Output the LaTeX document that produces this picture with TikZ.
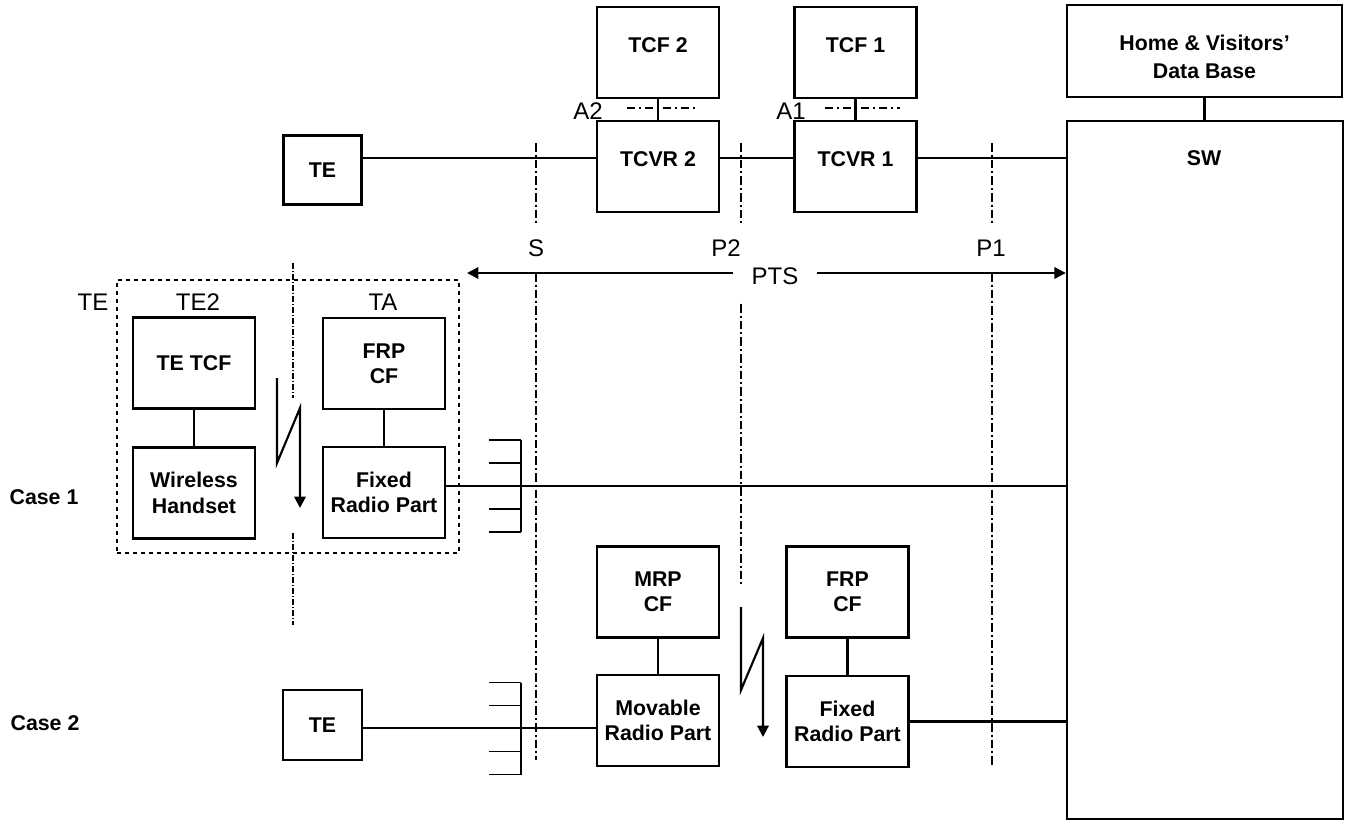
\documentclass[tikz,border=0pt]{standalone}
\usepackage{fontspec}
\setmainfont{Liberation Sans}
\usetikzlibrary{arrows.meta, positioning, calc}

\newcommand{\bfont}{\fontsize{16}{19}\selectfont\bfseries}
\newcommand{\rfont}{\fontsize{18}{21}\selectfont}

\tikzstyle{unit} = [draw, line width=1.8pt, align=center, inner sep=0pt, font=\bfont, minimum width=91.5pt, minimum height=68.25pt]
\tikzstyle{small unit} = [unit, minimum width=58.5pt, minimum height=52pt]
\tikzstyle{raised} = [text depth=10.5pt]
\tikzstyle{link} = [line width=1.6pt]
\tikzstyle{comb} = [line width=1.3pt]
\tikzstyle{refpoint} = [line width=1.2pt, dash pattern=on 6.5pt off 2.25pt on 1.5pt off 2.25pt]
\tikzstyle{interface} = [line width=1.1pt, dash pattern=on 6pt off 3pt on 1.5pt off 3pt]
\tikzstyle{boundary} = [line width=0.8pt, dash pattern=on 4.5pt off 1.5pt on 0.75pt off 1.5pt]
\tikzstyle{group} = [draw, line width=1.2pt, dash pattern=on 3pt off 3pt, inner sep=0pt]
\tikzstyle{radio} = [line width=1.6pt, -{Triangle[length=8.5pt,width=8.5pt]}]
\tikzstyle{caption} = [font=\rfont, inner sep=0pt]

\begin{document}
\begin{tikzpicture}[x=0.75pt, y=-0.75pt]
	\useasboundingbox (0,0) rectangle (1351,823);
	
	% upper chain
	\node[unit, raised] (tcf2) at (658,52.5) {TCF 2};
	\node[unit, raised] (tcvr2) at (658,166.5) {TCVR 2};
	\node[unit, raised] (tcf1) at (855.5,52.5) {TCF 1};
	\node[unit, raised] (tcvr1) at (855.5,166.5) {TCVR 1};
	\node[unit, minimum width=206.25pt, minimum height=69pt] (hvdb) at (1204.5,51) {};
	\node[font=\fontsize{16}{21}\selectfont\bfseries, align=center] (hvdbname) at (1204.5,57) {Home \& Visitors’\\Data Base};
	\node[unit, minimum width=207pt, minimum height=523.5pt] (sw) at (1205,470) {};
	\node[font=\bfont] (swname) at (1204,158) {SW};
	\node[small unit] (te) at (322.5,170) {TE};
	
	\coordinate (bus) at (0,158);
	\draw[link] (te.east |- bus) -- (tcvr2.west |- bus);
	\draw[link] (tcvr2.east |- bus) -- (tcvr1.west |- bus);
	\draw[link] (tcvr1.east |- bus) -- (sw.west |- bus);
	\draw[link] (tcf2) -- (tcvr2);
	\draw[link] (tcf1) -- (tcvr1);
	\draw[link] (hvdb.south) -- (hvdb.south |- sw.north);
	
	\draw[interface] (627,108) -- (697,108);
	\draw[interface] (825,108) -- (900,108);
	\node[caption] (a2) at (588,111) {A2};
	\node[caption] (a1) at (791,111) {A1};
	
	% reference points
	\foreach \x/\a/\b/\c/\d in {536/143/226/273/760, 741/143/225/304/585, 992/143/224/273/767}
	{
		\draw[refpoint] (\x,\a) -- (\x,\b);
		\draw[refpoint] (\x,\c) -- (\x,\d);
	}
	\node[caption] (s) at (536,248) {S};
	\node[caption] (p2) at (726,248) {P2};
	\node[caption] (p1) at (991,248) {P1};
	
	\node[caption, inner xsep=13.5pt] (pts) at (775,276) {PTS};
	\coordinate (ptsend) at (467,273);
	\draw[link, -{Triangle[length=8.5pt,width=8.5pt]}] (pts.west |- ptsend) -- (ptsend);
	\draw[link, -{Triangle[length=8.5pt,width=8.5pt]}] (pts.east |- ptsend) -- (sw.west |- ptsend);
	
	% case 1
	\node[group, minimum width=256.5pt, minimum height=204.75pt] (tegroup) at (288,416.5) {};
	\node[caption] (tename) at (93,302) {TE};
	\node[caption] (te2name) at (198,302) {TE2};
	\node[caption] (taname) at (383,302) {TA};
	\node[font=\bfont] (case1) at (44,497) {Case 1};
	
	\node[unit] (tetcf) at (194,363) {TE TCF};
	\node[unit] (handset) at (194,493) {Wireless\\Handset};
	\node[unit] (frpcf1) at (384,363.5) {FRP\\CF};
	\node[unit] (frp1) at (384,492.5) {Fixed\\Radio Part};
	\draw[link] (tetcf) -- (handset);
	\draw[link] (frpcf1) -- (frp1);
	\coordinate (case1line) at (0,486);
	\draw[link] (frp1.east |- case1line) -- (sw.west |- case1line);
	
	\draw[boundary] (293,263) -- (293,398);
	\draw[boundary] (293,533) -- (293,625);
	
	% case 2
	\node[font=\bfont] (case2) at (45,723) {Case 2};
	\node[small unit, minimum width=59.25pt, minimum height=52.5pt] (te2) at (322.5,725) {TE};
	\node[unit] (mrpcf) at (658,592) {MRP\\CF};
	\node[unit] (mrp) at (658,720.5) {Movable\\Radio Part};
	\node[unit] (frpcf2) at (847.5,592) {FRP\\CF};
	\node[unit] (frp2) at (847.5,721.5) {Fixed\\Radio Part};
	\draw[link] (mrpcf) -- (mrp);
	\draw[link] (frpcf2) -- (frp2);
	\coordinate (case2line) at (0,728);
	\draw[link] (te2.east |- case2line) -- (mrp.west |- case2line);
	\draw[link] (frp2.east) -- (frp2.east -| sw.west);
	
	% radio links
	\draw[radio] (277,378) -- ++(0,85) -- ++(23,-55) -- ++(0,100);
	\draw[radio] (741,607) -- ++(0,83) -- ++(22,-52) -- ++(0,99);
	
	% connectors
	\foreach \y in {486,728.5}
	{
		\draw[comb] (521,\y-46) -- (521,\y+46);
		\foreach \d in {-46,-23,23,46}
			\draw[comb] (489,\y+\d) -- (521,\y+\d);
	}
	
\end{tikzpicture}
\end{document}
